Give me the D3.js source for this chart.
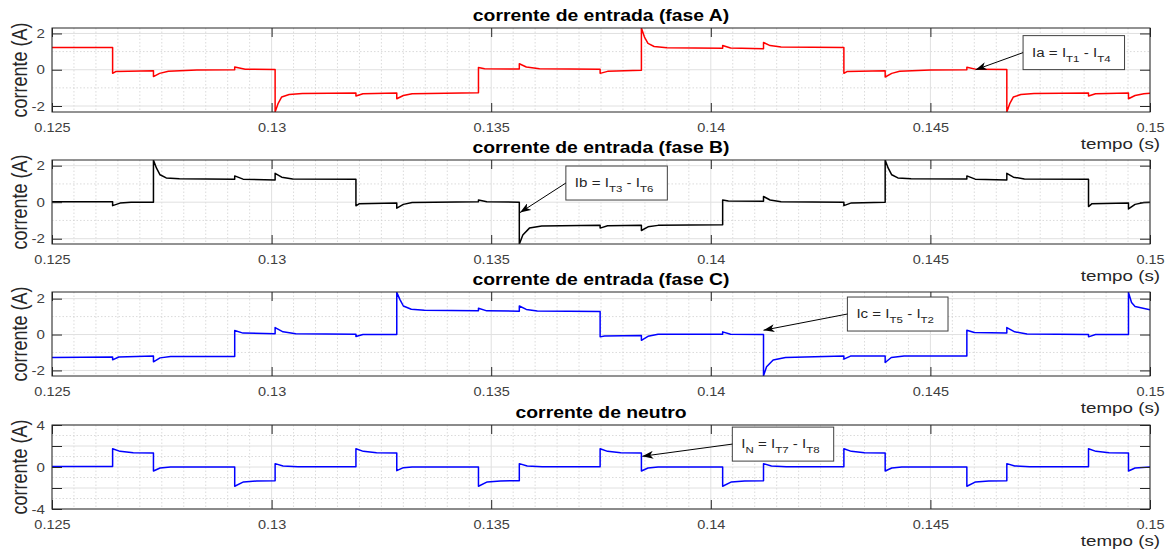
<!DOCTYPE html>
<html>
<head>
<meta charset="utf-8">
<script src="https://cdn.jsdelivr.net/npm/d3@7"></script>
<style>
  body { margin: 0; background: #fff; }
  text { font-family: "Liberation Sans", Arial, Helvetica, sans-serif; }
</style>
</head>
<body>
<svg id="chart" width="1168" height="555"></svg>
<script>
// ---- data: [tempo (s), corrente (A)] ----
var faseA = [[0.125,1.22],[0.12638,1.22],[0.12638,-0.2],[0.12645,-0.1],[0.12731,-0.05],[0.12731,-0.38],[0.12745,-0.2],[0.12765,-0.08],[0.1283,-0.02],[0.12916,0],[0.12916,0.15],[0.1294,0.03],[0.13008,0.01],
  [0.13008,-2.33],[0.13015,-1.85],[0.13023,-1.5],[0.1304,-1.37],[0.1307,-1.31],[0.13192,-1.28],[0.13192,-1.45],[0.13208,-1.32],[0.13285,-1.28],[0.13285,-1.6],[0.133,-1.42],[0.1332,-1.32],[0.13471,-1.27],
  [0.13471,0.12],[0.13485,0.05],[0.13564,0.04],[0.13564,0.33],[0.1358,0.15],[0.1361,0.06],[0.13748,0.03],[0.13748,-0.2],[0.13765,-0.09],[0.13842,-0.03],
  [0.13842,2.3],[0.13849,1.8],[0.13857,1.45],[0.13871,1.28],[0.139,1.21],[0.14027,1.18],[0.14027,1.34],[0.14045,1.2],[0.1412,1.16],[0.1412,1.5],[0.14135,1.33],[0.1416,1.25],[0.14303,1.22],
  [0.14303,-0.2],[0.1431,-0.1],[0.14397,-0.05],[0.14397,-0.4],[0.14412,-0.2],[0.1443,-0.08],[0.145,-0.02],[0.14583,0],[0.14583,0.14],[0.14605,0.02],[0.14674,0.01],
  [0.14674,-2.33],[0.14681,-1.85],[0.14689,-1.5],[0.14706,-1.37],[0.14736,-1.31],[0.1486,-1.28],[0.1486,-1.45],[0.14876,-1.32],[0.14951,-1.28],[0.14951,-1.6],[0.14966,-1.42],[0.14986,-1.32],[0.15,-1.3]];

var faseB = [[0.125,0.03],[0.12638,0.03],[0.12638,-0.19],[0.12655,-0.05],[0.1268,0],[0.12731,0],
  [0.12731,2.3],[0.12738,1.86],[0.12746,1.5],[0.1276,1.33],[0.1279,1.28],[0.12916,1.26],[0.12916,1.44],[0.12935,1.26],[0.13008,1.22],[0.13008,1.58],[0.13023,1.37],[0.13048,1.27],[0.13192,1.25],
  [0.13192,-0.2],[0.132,-0.08],[0.13285,-0.05],[0.13285,-0.33],[0.133,-0.12],[0.1332,-0.02],[0.13471,0.02],[0.13471,0.12],[0.1349,0.02],[0.13564,0],
  [0.13564,-2.3],[0.13572,-1.8],[0.13587,-1.42],[0.13615,-1.3],[0.13748,-1.27],[0.13748,-1.42],[0.13765,-1.29],[0.13842,-1.27],[0.13842,-1.55],[0.13857,-1.35],[0.1388,-1.27],[0.14027,-1.24],
  [0.14027,0.12],[0.1404,0.06],[0.1412,0.05],[0.1412,0.31],[0.14135,0.12],[0.1416,0.03],[0.14303,0],[0.14303,-0.19],[0.1432,-0.04],[0.14397,0],
  [0.14397,2.3],[0.14404,1.86],[0.14412,1.5],[0.14426,1.33],[0.14456,1.28],[0.14583,1.27],[0.14583,1.44],[0.14602,1.26],[0.14674,1.22],[0.14674,1.58],[0.14689,1.37],[0.14714,1.27],[0.1486,1.25],
  [0.1486,-0.24],[0.14868,-0.08],[0.14951,-0.05],[0.14951,-0.37],[0.14966,-0.12],[0.14986,-0.02],[0.15,0]];

var faseC = [[0.125,-1.28],[0.12638,-1.25],[0.12638,-1.41],[0.12652,-1.25],[0.12731,-1.2],[0.12731,-1.52],[0.12746,-1.3],[0.1277,-1.23],[0.12916,-1.22],
  [0.12916,0.22],[0.12935,0.08],[0.13008,0.05],[0.13008,0.39],[0.13026,0.15],[0.13055,0.05],[0.13192,0.02],[0.13192,-0.11],[0.13208,0],[0.13285,0],
  [0.13285,2.35],[0.13292,1.96],[0.133,1.59],[0.13318,1.41],[0.13348,1.35],[0.13471,1.32],[0.13471,1.46],[0.1349,1.32],[0.13564,1.3],[0.13564,1.59],[0.1358,1.4],[0.13605,1.31],[0.13748,1.28],
  [0.13748,-0.13],[0.13758,-0.08],[0.13842,-0.06],[0.13842,-0.32],[0.13857,-0.1],[0.1388,0.01],[0.14027,0.02],[0.14027,0.15],[0.14045,0.02],[0.1412,0],
  [0.1412,-2.3],[0.14127,-1.8],[0.14142,-1.42],[0.1417,-1.28],[0.14303,-1.19],[0.14303,-1.37],[0.14318,-1.2],[0.14397,-1.19],[0.14397,-1.56],[0.14411,-1.28],[0.1444,-1.2],[0.14583,-1.19],
  [0.14583,0.24],[0.146,0.11],[0.14674,0.08],[0.14674,0.39],[0.14692,0.15],[0.1472,0.03],[0.1486,0],[0.1486,-0.13],[0.14876,0],[0.14951,0],
  [0.14951,2.35],[0.14958,1.78],[0.14966,1.56],[0.15,1.38]];

var neutro = [[0.125,0.05],[0.12638,0.05],[0.12638,1.74],[0.12655,1.49],[0.12685,1.36],[0.12731,1.33],[0.12731,-0.38],[0.12746,-0.09],[0.1277,0],[0.12916,0],
  [0.12916,-1.83],[0.12936,-1.42],[0.12966,-1.33],[0.13008,-1.3],[0.13008,0.32],[0.13026,0.1],[0.1306,0.03],[0.13192,0.03],
  [0.13192,1.74],[0.13209,1.49],[0.13239,1.36],[0.13285,1.33],[0.13285,-0.35],[0.133,-0.06],[0.1332,0],[0.13471,0],
  [0.13471,-1.83],[0.13491,-1.42],[0.13521,-1.33],[0.13564,-1.3],[0.13564,0.32],[0.13582,0.1],[0.13616,0.03],[0.13748,0.03],
  [0.13748,1.74],[0.13765,1.49],[0.13795,1.36],[0.13842,1.33],[0.13842,-0.38],[0.13857,-0.09],[0.1388,0],[0.14027,0],
  [0.14027,-1.83],[0.14047,-1.42],[0.14077,-1.33],[0.1412,-1.3],[0.1412,0.32],[0.14138,0.1],[0.14172,0.03],[0.14303,0.03],
  [0.14303,1.74],[0.1432,1.49],[0.1435,1.36],[0.14397,1.33],[0.14397,-0.38],[0.14412,-0.09],[0.14435,0],[0.14583,0],
  [0.14583,-1.83],[0.14603,-1.42],[0.14633,-1.33],[0.14674,-1.3],[0.14674,0.32],[0.14692,0.1],[0.14726,0.03],[0.1486,0.03],
  [0.1486,1.74],[0.14877,1.49],[0.14907,1.36],[0.14951,1.33],[0.14951,-0.38],[0.14966,-0.09],[0.15,0]];

var titulos = ["corrente de entrada (fase A)", "corrente de entrada (fase B)", "corrente de entrada (fase C)", "corrente de neutro"];
var series = [faseA, faseB, faseC, neutro];
var ylims = [[-2.33, 2.3], [-2.29, 2.31], [-2.31, 2.37], [-4, 4]];
var yTicks = [[-2, 0, 2], [-2, 0, 2], [-2, 0, 2], [-4, -2, 0, 2, 4]];
var yTickLabels = [["-2", "0", "2"], ["-2", "0", "2"], ["-2", "0", "2"], ["-4", "", "0", "", "4"]];
var yMinor = [[-1, 1], [-1, 1], [-1, 1], [-3, -1, 1, 3]];
var xTicks = [0.125, 0.13, 0.135, 0.14, 0.145, 0.15];
var xTickLabels = ["0.125", "0.13", "0.135", "0.14", "0.145", "0.15"];

// annotations: text, arrow tip [t, i], box top-left corner [t, i]
var anotTexto = ["Ia = I_{T1} - I_{T4}", "Ib = I_{T3} - I_{T6}", "Ic = I_{T5} - I_{T2}", "I_{N} = I_{T7} - I_{T8}"];
var anotPonta = [[0.14603, 0], [0.135656, -0.57], [0.1412, 0.24], [0.13844, 1.02]];
var anotCaixa = [[0.14711, 1.88], [0.1367, 1.98], [0.14311, 2.09], [0.14049, 3.8]];

var cores = ["#ff0000", "#000000", "#0000ff", "#0000ff"];

// ---- layout ----
var svg = d3.select("#chart");
var left = 52, right = 1150, panelH = 84;
var panelTop = [28, 160, 292, 425];
var width = right - left;
var S = 1.21;   // the picture's text is a bit wider than it is tall

var x = d3.scaleLinear().domain([0.125, 0.15]).range([0, width]);
var xMinor = d3.range(0, 51).map(function(i) { return 0.125 + i * 0.0005; });

var defs = svg.append("defs");
defs.append("marker")
  .attr("id", "seta")
  .attr("markerUnits", "userSpaceOnUse")
  .attr("markerWidth", 12).attr("markerHeight", 8)
  .attr("refX", 11).attr("refY", 4)
  .attr("orient", "auto")
  .append("path")
  .attr("d", "M0,0 L11,4 L0,8 L3,4 Z")
  .attr("fill", "#000");

function label(g, px, py, txt, size, anchor, bold, rot) {
  return g.append("text")
    .attr("transform", "translate(" + px + "," + py + ")" + (rot ? " rotate(-90) scale(1," + S + ")" : " scale(" + S + ",1)"))
    .attr("text-anchor", anchor)
    .style("font-size", size + "px")
    .style("font-weight", bold ? "bold" : null)
    .attr("fill", bold ? "#000" : "#262626")
    .text(txt);
}

series.forEach(function(dados, k) {
  var g = svg.append("g").attr("transform", "translate(" + left + "," + panelTop[k] + ")");
  var y = d3.scaleLinear().domain(ylims[k]).range([panelH, 0]);

  defs.append("clipPath").attr("id", "clip" + k)
    .append("rect").attr("width", width).attr("height", panelH);

  // minor grid (dotted)
  g.selectAll(".mx").data(xMinor.filter(function(t) { return xTicks.indexOf(+t.toFixed(4)) < 0; }))
    .enter().append("line")
    .attr("x1", function(d) { return x(d); }).attr("x2", function(d) { return x(d); })
    .attr("y1", 0).attr("y2", panelH)
    .attr("stroke", "#d2d2d2").attr("stroke-width", 0.8).attr("stroke-dasharray", "1.5,2");
  g.selectAll(".my").data(yMinor[k]).enter().append("line")
    .attr("x1", 0).attr("x2", width)
    .attr("y1", function(d) { return y(d); }).attr("y2", function(d) { return y(d); })
    .attr("stroke", "#d2d2d2").attr("stroke-width", 0.8).attr("stroke-dasharray", "1.5,2");

  // major grid (solid)
  g.selectAll(".gx").data(xTicks).enter().append("line")
    .attr("x1", function(d) { return x(d); }).attr("x2", function(d) { return x(d); })
    .attr("y1", 0).attr("y2", panelH)
    .attr("stroke", "#e0e0e0").attr("stroke-width", 1);
  g.selectAll(".gy").data(yTicks[k]).enter().append("line")
    .attr("x1", 0).attr("x2", width)
    .attr("y1", function(d) { return y(d); }).attr("y2", function(d) { return y(d); })
    .attr("stroke", "#e0e0e0").attr("stroke-width", 1);

  // curve
  var line = d3.line()
    .x(function(d) { return x(d[0]); })
    .y(function(d) { return y(d[1]); });
  g.append("path")
    .datum(dados)
    .attr("clip-path", "url(#clip" + k + ")")
    .attr("fill", "none")
    .attr("stroke", cores[k])
    .attr("stroke-width", 1.5)
    .attr("stroke-linejoin", "round")
    .attr("d", line);

  // axes (ticks inside, box on)
  var axB = g.append("g").attr("class", "axis").attr("transform", "translate(0," + panelH + ")")
    .call(d3.axisBottom(x).tickValues(xTicks).tickSize(-9).tickPadding(11)
      .tickFormat(function(d, i) { return xTickLabels[i]; }));
  g.append("g").attr("class", "axis")
    .call(d3.axisTop(x).tickValues(xTicks).tickSize(-9).tickFormat(""));
  var axL = g.append("g").attr("class", "axis")
    .call(d3.axisLeft(y).tickValues(yTicks[k]).tickSize(-10).tickPadding(7)
      .tickFormat(function(d, i) { return yTickLabels[k][i]; }));
  g.append("g").attr("class", "axis").attr("transform", "translate(" + width + ",0)")
    .call(d3.axisRight(y).tickValues(yTicks[k]).tickSize(-10).tickFormat(""));

  g.selectAll(".axis .domain").remove();
  g.selectAll(".axis line").attr("stroke", "#262626").attr("stroke-width", 1);
  axB.selectAll("text").style("font-size", "12px").attr("fill", "#404040")
    .attr("transform", "scale(" + S + ",1)");
  axL.selectAll("text").style("font-size", "12.5px").attr("fill", "#404040")
    .attr("x", -7 / S).attr("transform", "scale(" + S + ",1)");

  g.append("rect")
    .attr("width", width).attr("height", panelH)
    .attr("fill", "none").attr("stroke", "#262626").attr("stroke-width", 1);

  // titles and labels
  label(g, width / 2, -7, titulos[k], 16, "middle", true, false);
  label(g, -25, panelH / 2, "corrente (A)", 18, "middle", false, true);
  label(g, 1160 - left, panelH + 37, "tempo (s)", 15.5, "end", false, false);

  // annotation box + arrow
  var bx = x(anotCaixa[k][0]), by = y(anotCaixa[k][1]);
  var boxH = 34;
  var ag = g.append("g");
  var rect = ag.append("rect");
  var txt = ag.append("text")
    .attr("transform", "translate(" + (bx + 9) + "," + (by + 21) + ") scale(" + S + ",1)")
    .style("font-size", "12.5px")
    .attr("fill", "#262626");
  var parts = anotTexto[k].split(/(_\{[^}]*\})/).filter(function(s) { return s.length; });
  var shifted = false;
  parts.forEach(function(s) {
    if (s.charAt(0) === "_") {
      txt.append("tspan").attr("dy", 5).style("font-size", "9.5px").text(s.slice(2, -1));
      shifted = true;
    } else {
      txt.append("tspan").attr("dy", shifted ? -5 : 0).text(s.replace(/ /g, "\u00a0"));
      shifted = false;
    }
  });
  var bw = txt.node().getComputedTextLength() * S + 23;
  rect.attr("x", bx).attr("y", by).attr("width", bw).attr("height", boxH)
    .attr("fill", "#fff").attr("stroke", "#404040").attr("stroke-width", 1);
  ag.append("line")
    .attr("x1", bx).attr("y1", by + boxH / 2)
    .attr("x2", x(anotPonta[k][0])).attr("y2", y(anotPonta[k][1]))
    .attr("stroke", "#000").attr("stroke-width", 1)
    .attr("marker-end", "url(#seta)");
});
</script>
</body>
</html>
